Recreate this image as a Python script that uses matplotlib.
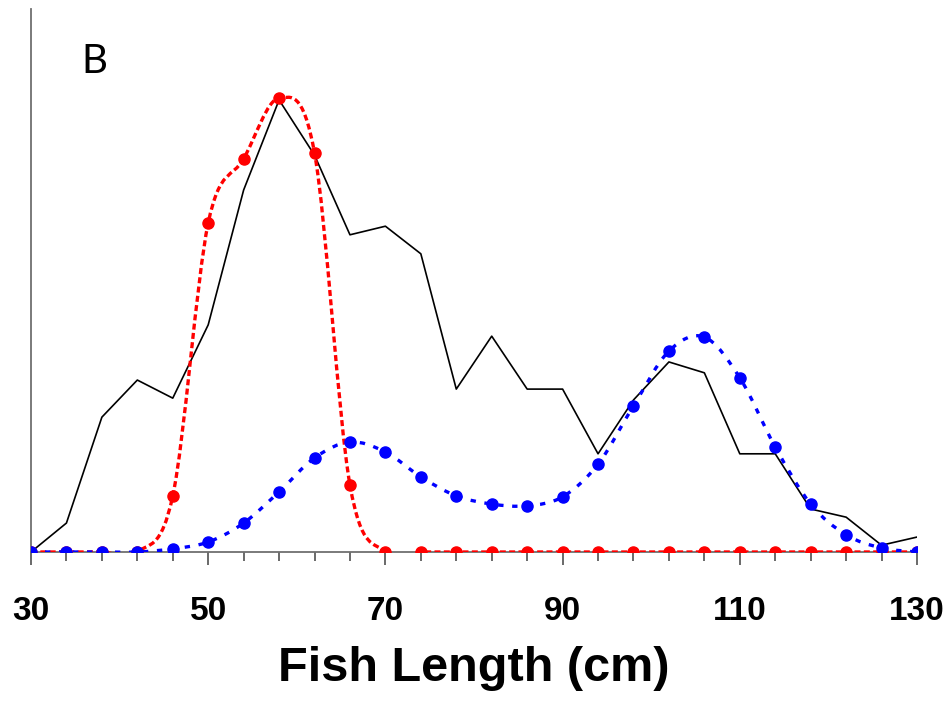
import numpy as np
import matplotlib
matplotlib.use("Agg")
import matplotlib.pyplot as plt
from matplotlib.path import Path
from matplotlib.patches import PathPatch

# fish length classes (cm)
length = np.arange(30, 131, 4)

# observed frequency (black line)
observed = [0, 0.64, 2.98, 3.80, 3.40, 5.02, 8.00, 9.99, 8.77, 7.01, 7.20, 6.59, 3.60,
            4.77, 3.60, 3.60, 2.17, 3.36, 4.20, 3.96, 2.17, 2.17, 0.95, 0.77, 0.15, 0.33]

# fitted component 1 (red)
comp1 = [0, 0, 0, 0, 1.24, 7.27, 8.69, 10.03, 8.82, 1.48, 0, 0, 0,
         0, 0, 0, 0, 0, 0, 0, 0, 0, 0, 0, 0, 0]

# fitted component 2 (blue)
comp2 = [0, 0, 0, 0, 0.07, 0.22, 0.64, 1.33, 2.08, 2.43, 2.21, 1.66, 1.24,
         1.06, 1.02, 1.22, 1.94, 3.23, 4.44, 4.75, 3.85, 2.32, 1.06, 0.38, 0.09, 0]


def smooth_path(x, y):
    # bezier segments like a spreadsheet "smoothed line"
    p = np.column_stack([x, y]).astype(float)
    n = len(p)
    verts = [p[0]]
    codes = [Path.MOVETO]
    for i in range(n - 1):
        p0 = p[i - 1] if i > 0 else p[i]
        p3 = p[i + 2] if i + 2 < n else p[i + 1]
        c1 = p[i] + (p[i + 1] - p0) / 6
        c2 = p[i + 1] - (p3 - p[i]) / 6
        verts += [c1, c2, p[i + 1]]
        codes += [Path.CURVE4] * 3
    return Path(verts, codes)


fig = plt.figure(figsize=(9.51, 7.08), dpi=100)
ax = fig.add_axes([31/951, 1 - 552/708, (917 - 31)/951, (552 - 9)/708])

ax.plot(length, observed, color="black", linewidth=1.2, zorder=2)

ax.add_patch(PathPatch(smooth_path(length, comp1), fill=False, edgecolor="#ff0000",
                       linewidth=2.4, linestyle=(0, (1.8, 1.0)), zorder=3))
ax.plot(length, comp1, "o", color="#ff0000", markersize=8, zorder=4)

ax.add_patch(PathPatch(smooth_path(length, comp2), fill=False, edgecolor="#0000ff",
                       linewidth=2.4, linestyle=(0, (1.6, 2.6)), zorder=5))
ax.plot(length, comp2, "o", color="#0000ff", markersize=8, zorder=6)

ax.set_xlim(30, 130)
ax.set_ylim(0, 12)
ax.set_xticks(np.arange(30, 131, 20))
ax.set_xticks(length, minor=True)
ax.set_yticks([])

for s in ["top", "right"]:
    ax.spines[s].set_visible(False)
for s in ["left", "bottom"]:
    ax.spines[s].set_color("#707070")
    ax.spines[s].set_linewidth(1.3)

ax.tick_params(axis="x", which="major", direction="out", length=9.5, width=1.2,
               color="#505050", pad=22)
ax.tick_params(axis="x", which="minor", direction="out", length=6.5, width=1.2,
               color="#505050")
for lab in ax.get_xticklabels():
    lab.set_fontfamily("Liberation Sans")
    lab.set_fontweight("bold")
    lab.set_fontsize(24)

ax.set_xlabel("Fish Length (cm)", fontfamily="Liberation Sans", fontweight="bold",
              fontsize=35, labelpad=14)

fig.text(81/951, 1 - 73/708, "B", fontfamily="Lato", fontsize=29, va="baseline")

fig.savefig("out.png", dpi=100)
